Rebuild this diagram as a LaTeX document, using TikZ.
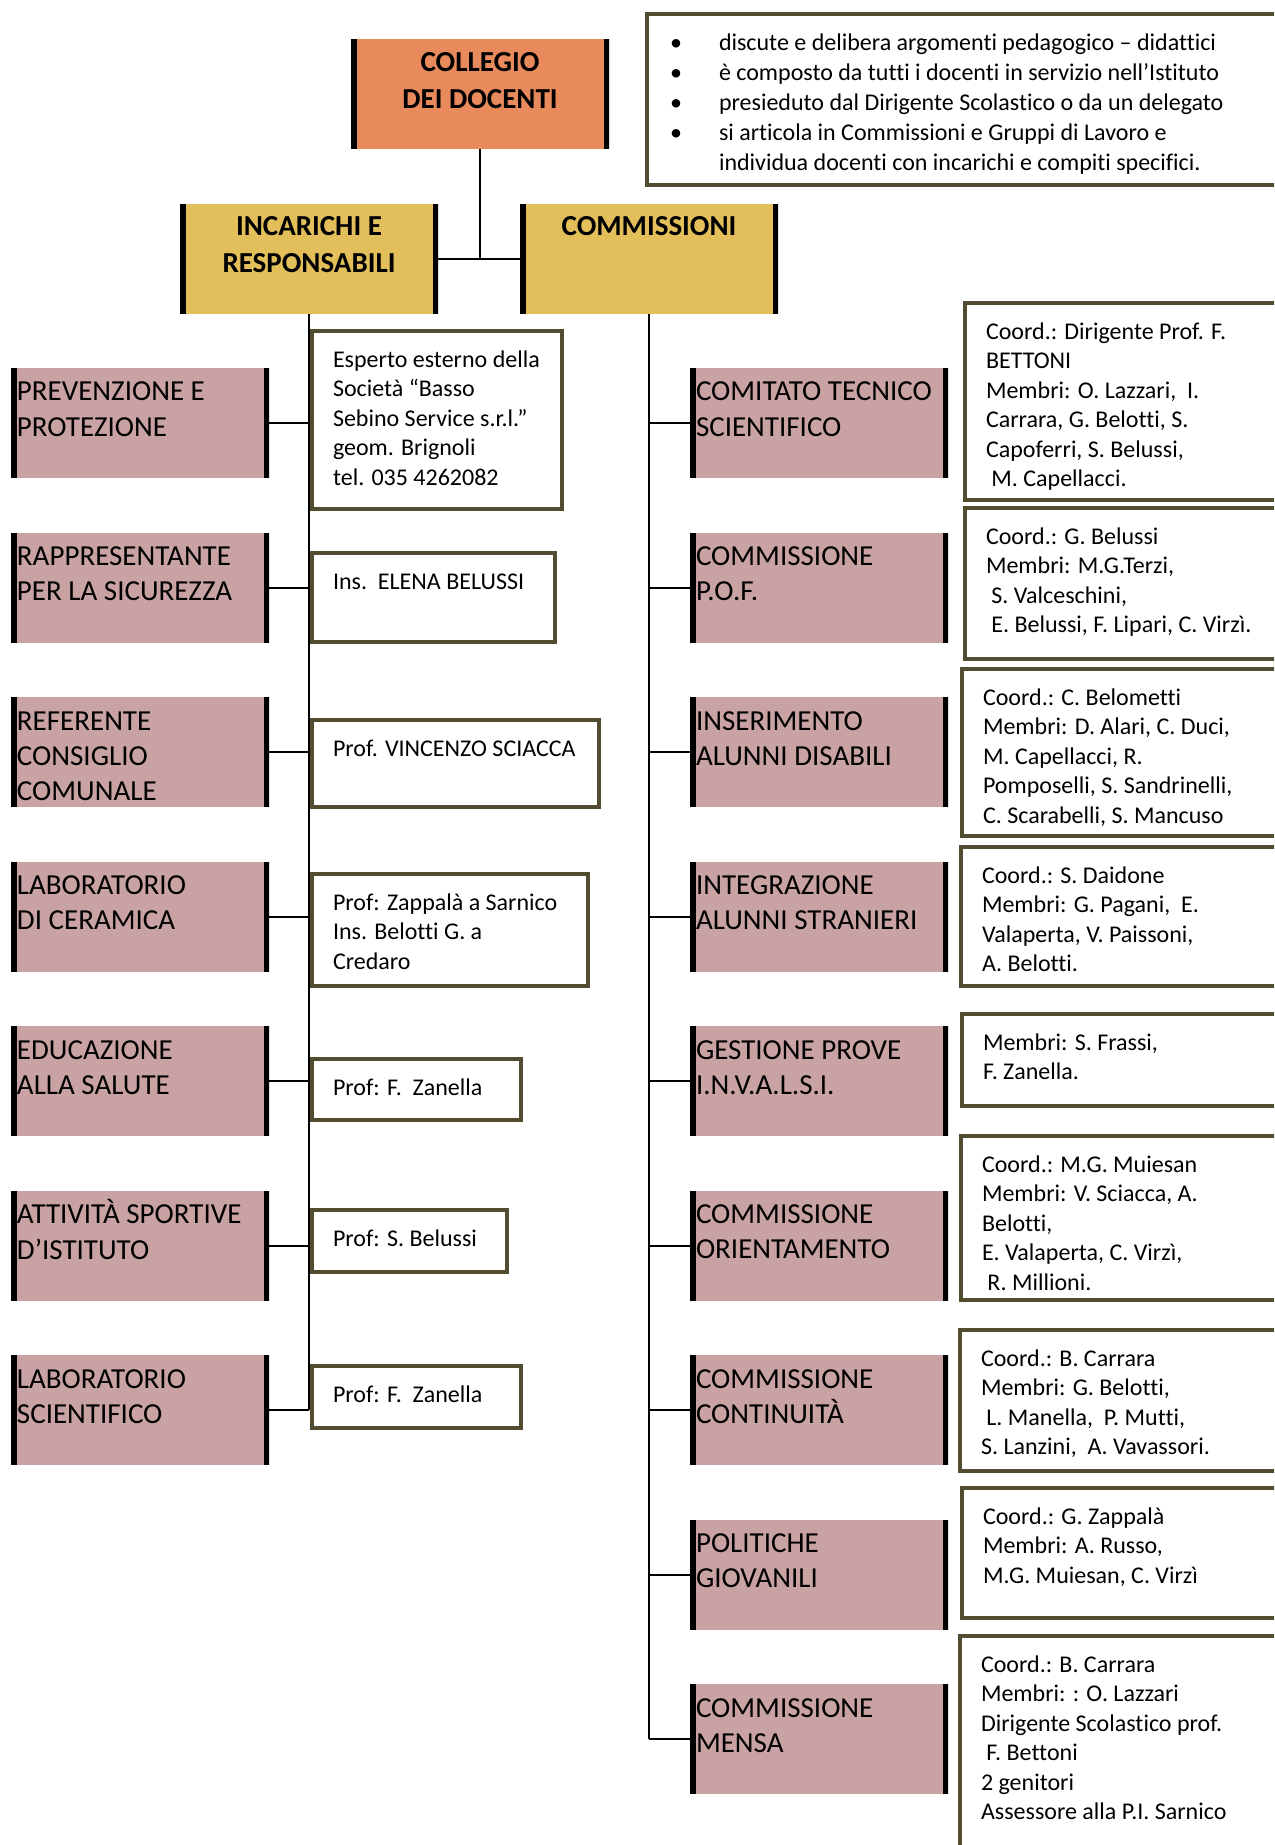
\documentclass[tikz,border=0pt]{standalone}
\usepackage{fontspec}
\setmainfont{Carlito}[Ligatures={NoCommon}]
\definecolor{orangec}{HTML}{E98A5C}
\definecolor{goldc}{HTML}{E2BF5A}
\definecolor{pinkc}{HTML}{C9A2A3}
\definecolor{olivec}{HTML}{524C30}
\newcommand\hs{\rule{0pt}{12pt}}
\newcommand\bs{\rule{0pt}{10pt}}
\newcommand\lsp{\hspace*{2.7pt}}
\newcommand\pinkrow[4]{%
  \node[pinkbox] (#1) at (#2,#3) {};
  \node[lbl] (#1t) at ([xshift=3pt,yshift=-4.5pt]#1.north west) {\hs #4};}
\newcommand\tbox[6]{%
  \node[textbox, minimum width=#4, minimum height=#5] (#1) at (#2,#3) {};
  \node[body] (#1t) at ([xshift=10.5pt,yshift=-8.25pt]#1.north west) {\bs #6};}
\begin{document}
\begin{tikzpicture}[x=0.5pt,y=-0.5pt,
  barbox/.style={rectangle, inner sep=0pt, outer sep=0pt, anchor=north west,
    path picture={\draw[line width=5.5pt]
      (path picture bounding box.north west) -- (path picture bounding box.south west)
      (path picture bounding box.north east) -- (path picture bounding box.south east);}},
  headbox/.style={barbox, minimum width=129pt, minimum height=55pt},
  pinkbox/.style={barbox, fill=pinkc, minimum width=129pt, minimum height=55pt},
  lbl/.style={anchor=north west, inner sep=0pt, outer sep=0pt, align=left,
    font=\fontsize{14.5}{17.65}\selectfont},
  headlbl/.style={anchor=north, inner sep=0pt, outer sep=0pt, align=center,
    font=\fontsize{14.5}{18.3}\selectfont\bfseries},
  textbox/.style={rectangle, draw=olivec, line width=1.75pt, fill=white,
    inner sep=0pt, outer sep=0pt, anchor=north west},
  body/.style={anchor=north west, inner sep=0pt, outer sep=0pt, align=left,
    font=\fontsize{12}{14.7}\selectfont},
  infotext/.style={body, font=\fontsize{12}{15}\selectfont},
  conn/.style={line width=1pt, black}
]
\useasboundingbox (0,0) rectangle (1274,1845);
\clip (0,0) rectangle (1274,1845);
\fill[white] (0,0) rectangle (1274,1845);

% headers
\node[headbox, fill=orangec] (col) at (351,39) {};
\node[headlbl] (colt) at ([yshift=-4.5pt]col.north) {\hs COLLEGIO\\DEI DOCENTI};
\node[headbox, fill=goldc] (inc) at (180,204) {};
\node[headlbl] (inct) at ([yshift=-4pt]inc.north) {\hs INCARICHI E\\RESPONSABILI};
\node[headbox, fill=goldc] (com) at (520,204) {};
\node[headlbl] (comt) at ([yshift=-4pt]com.north) {\hs COMMISSIONI};

% info box
\node[textbox, minimum width=330pt, minimum height=85.5pt] (info) at (647,14) {};
\node[infotext] (infob) at (670,31) {\bs •\\•\\•\\•};
\node[infotext] (infot) at (719,31) {\bs discute e delibera argomenti pedagogico – didattici\\
è composto da tutti i docenti in servizio nell’Istituto\\
presieduto dal Dirigente Scolastico o da un delegato\\
si articola in Commissioni e Gruppi di Lavoro e\\
individua docenti con incarichi e compiti specifici.};

% left column
\pinkrow{L1}{11}{368}{PREVENZIONE E\\PROTEZIONE}
\pinkrow{L2}{11}{532.5}{RAPPRESENTANTE\\PER LA SICUREZZA}
\pinkrow{L3}{11}{697}{REFERENTE\\CONSIGLIO\\COMUNALE}
\pinkrow{L4}{11}{861.5}{LABORATORIO\\DI CERAMICA}
\pinkrow{L5}{11}{1026}{EDUCAZIONE\\ALLA SALUTE}
\pinkrow{L6}{11}{1190.5}{ATTIVITÀ SPORTIVE\\D’ISTITUTO}
\pinkrow{L7}{11}{1355}{LABORATORIO\\SCIENTIFICO}

\tbox{A1}{312}{331}{125pt}{89pt}{Esperto esterno della\\Società “Basso\\Sebino Service s.r.l.”\\geom. Brignoli\\tel. 035 4262082}
\tbox{A2}{312}{553}{121.5pt}{44.5pt}{Ins.\ \ ELENA BELUSSI}
\tbox{A3}{312}{720}{143.5pt}{43.5pt}{Prof. VINCENZO SCIACCA}
\tbox{A4}{312}{874}{138pt}{56pt}{Prof: Zappalà a Sarnico\\Ins. Belotti G. a\\Credaro}
\tbox{A5}{312}{1059}{104.5pt}{30.5pt}{Prof: F.\ \ Zanella}
\tbox{A6}{312}{1210}{97.5pt}{31pt}{Prof: S. Belussi}
\tbox{A7}{312}{1366}{104.5pt}{31pt}{Prof: F.\ \ Zanella}

% right column
\pinkrow{R1}{690}{368}{COMITATO TECNICO\\SCIENTIFICO}
\pinkrow{R2}{690}{532.5}{COMMISSIONE\\P.O.F.}
\pinkrow{R3}{690}{697}{INSERIMENTO\\ALUNNI DISABILI}
\pinkrow{R4}{690}{861.5}{INTEGRAZIONE\\ALUNNI STRANIERI}
\pinkrow{R5}{690}{1026}{GESTIONE PROVE\\I.N.V.A.L.S.I.}
\pinkrow{R6}{690}{1190.5}{COMMISSIONE\\ORIENTAMENTO}
\pinkrow{R7}{690}{1355}{COMMISSIONE\\CONTINUITÀ}
\pinkrow{R8}{690}{1519.5}{POLITICHE\\GIOVANILI}
\pinkrow{R9}{690}{1684}{COMMISSIONE\\MENSA}

\tbox{B1}{965}{303}{169pt}{98.5pt}{Coord.: Dirigente Prof. F.\\BETTONI\\Membri: O. Lazzari,\ \ I.\\Carrara, G. Belotti, S.\\Capoferri, S. Belussi,\\\lsp M. Capellacci.}
\tbox{B2}{965}{508}{169pt}{75.5pt}{Coord.: G. Belussi\\Membri: M.G.Terzi,\\\lsp S. Valceschini,\\\lsp E. Belussi, F. Lipari, C. Virzì.}
\tbox{B3}{962}{669}{169pt}{83.5pt}{Coord.: C. Belometti\\Membri: D. Alari, C. Duci,\\M. Capellacci, R.\\Pomposelli, S. Sandrinelli,\\C. Scarabelli, S. Mancuso}
\tbox{B4}{961}{847}{169pt}{69.5pt}{Coord.: S. Daidone\\Membri: G. Pagani,\ \ E.\\Valaperta, V. Paissoni,\\A. Belotti.}
\tbox{B5}{962}{1014}{169pt}{46pt}{Membri: S. Frassi,\\F. Zanella.}
\tbox{B6}{961}{1136}{169pt}{82pt}{Coord.: M.G. Muiesan\\Membri: V. Sciacca, A.\\Belotti,\\E. Valaperta, C. Virzì,\\\lsp R. Millioni.}
\tbox{B7}{960}{1330}{169pt}{70.5pt}{Coord.: B. Carrara\\Membri: G. Belotti,\\\lsp L. Manella,\ \ P. Mutti,\\S. Lanzini,\ \ A. Vavassori.}
\tbox{B8}{962}{1488}{169pt}{65pt}{Coord.: G. Zappalà\\Membri: A. Russo,\\M.G. Muiesan, C. Virzì}
\tbox{B9}{960}{1636}{169pt}{112pt}{Coord.: B. Carrara\\Membri: : O. Lazzari\\Dirigente Scolastico prof.\\\lsp F. Bettoni\\2 genitori\\Assessore alla P.I. Sarnico}

% connectors
\draw[conn] (col.south) -- (col.south |- inc.east);
\draw[conn] (inc.east) -- (com.west);
\draw[conn] (inc.south) -- (inc.south |- L7.east);
\draw[conn] (com.south) -- (com.south |- R9.west);
\foreach \n in {L1,L2,L3,L4,L5,L6,L7}
  \draw[conn] (\n.east) -- (inc.south |- \n.east);
\foreach \n in {R1,R2,R3,R4,R5,R6,R7,R8,R9}
  \draw[conn] (com.south |- \n.west) -- (\n.west);
\end{tikzpicture}
\end{document}
